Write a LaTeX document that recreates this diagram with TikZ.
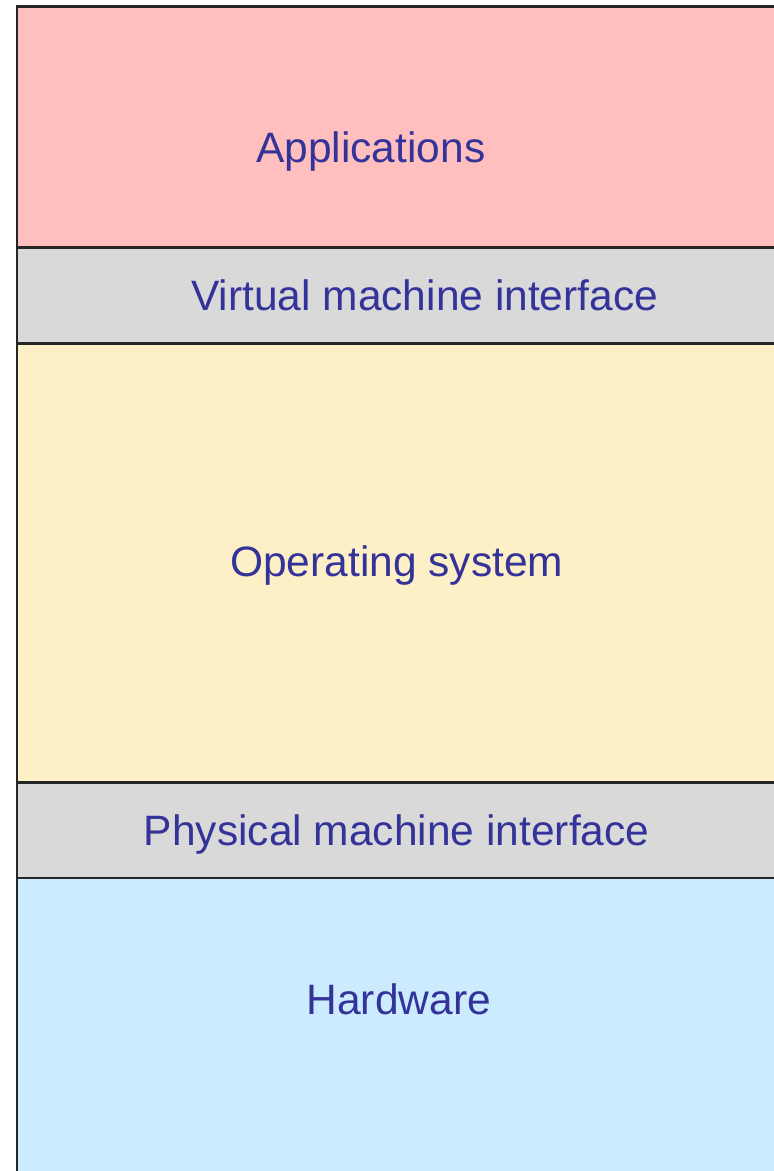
\documentclass[tikz,border=0pt]{standalone}
\usepackage{fontspec}
\setmainfont{Liberation Sans}
\definecolor{appcol}{HTML}{FFBFBF}
\definecolor{ifacecol}{HTML}{D9D9D9}
\definecolor{oscol}{HTML}{FEF0C6}
\definecolor{hwcol}{HTML}{CCEBFF}
\definecolor{labelcol}{HTML}{333399}
\begin{document}
\begin{tikzpicture}[x=1pt, y=-1pt]
   \tikzstyle{layer}=[draw=black!85, line width=2.5pt]
   \tikzstyle{every node}=[anchor=base, text=labelcol, font=\fontsize{42.5}{50}\selectfont, inner sep=0pt]

\useasboundingbox (0,0) rectangle (774,1171);
\clip (0,0) rectangle (774,1171);

% the layers, from top to bottom
\filldraw[layer, fill=appcol]   (17,6.5) rectangle (790,247.5);
\filldraw[layer, fill=ifacecol] (17,247.5) rectangle (790,343.5);
\filldraw[layer, fill=oscol]    (17,343.5) rectangle (790,782.5);
\filldraw[layer, fill=ifacecol] (17,782.5) rectangle (790,878);
\filldraw[layer, fill=hwcol]    (17,878) rectangle (790,1190);

\node (apps) at (370.8,162) {Applications};
\node (vmi)  at (424.7,310) {Virtual machine interface};
\node (os)   at (396.7,576.7) {Operating system};
\node (pmi)  at (396.7,845) {Physical machine interface};
\node (hw)   at (398.8,1014) {Hardware};

\end{tikzpicture}
\end{document}
